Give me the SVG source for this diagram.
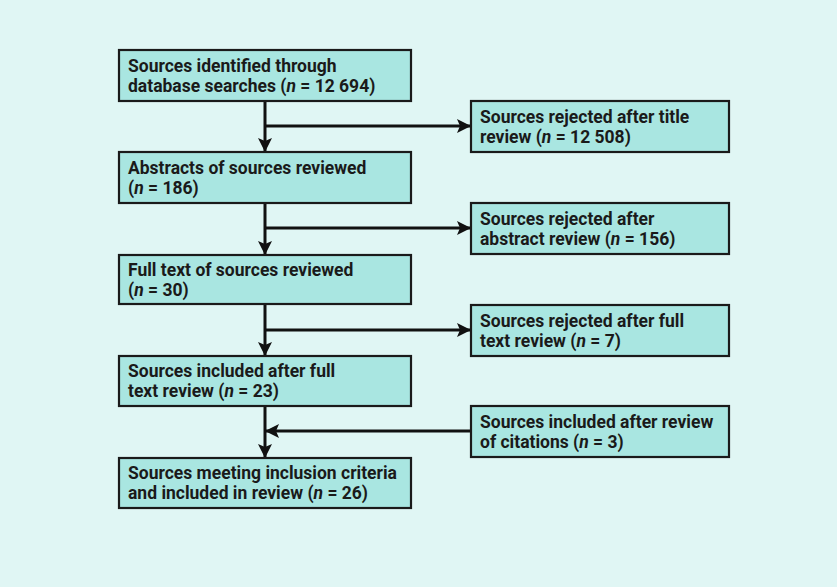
<svg xmlns="http://www.w3.org/2000/svg" width="837" height="587" viewBox="0 0 837 587">
<defs>
<marker id="ah" viewBox="0 0 14 14" refX="13" refY="7" markerWidth="14" markerHeight="14" markerUnits="userSpaceOnUse" orient="auto">
<path d="M0,0 L14,7 L0,14 L3,7 Z" fill="#111"/>
</marker>
<style>
.box{fill:#a9e6e1;stroke:#1a1a1a;stroke-width:2.2}
.t{font-family:Roboto,"Liberation Sans",sans-serif;font-weight:bold;font-size:17.5px;fill:#1a1a1a}
.c{stroke:#111;stroke-width:3;fill:none}
</style>
</defs>
<rect width="837" height="587" fill="#e0f6f4"/>
<g id="connectors">
<line class="c" x1="265" y1="101" x2="265" y2="151" marker-end="url(#ah)"/>
<line class="c" x1="265" y1="126" x2="470" y2="126" marker-end="url(#ah)"/>
<line class="c" x1="265" y1="203" x2="265" y2="254" marker-end="url(#ah)"/>
<line class="c" x1="265" y1="228" x2="470" y2="228" marker-end="url(#ah)"/>
<line class="c" x1="265" y1="304" x2="265" y2="355" marker-end="url(#ah)"/>
<line class="c" x1="265" y1="330" x2="470" y2="330" marker-end="url(#ah)"/>
<line class="c" x1="265" y1="406" x2="265" y2="457" marker-end="url(#ah)"/>
<line class="c" x1="471" y1="431" x2="266" y2="431" marker-end="url(#ah)"/>
</g>
<g id="n1"><rect class="box" x="119" y="50" width="292" height="51"/><text class="t" x="128" y="72">Sources identified through</text><text class="t" x="128" y="92">database searches (<tspan font-style="italic">n</tspan> = 12 694)</text></g>
<g id="n2"><rect class="box" x="119" y="152" width="292" height="51"/><text class="t" x="128" y="174">Abstracts of sources reviewed</text><text class="t" x="128" y="194">(<tspan font-style="italic">n</tspan> = 186)</text></g>
<g id="n3"><rect class="box" x="119" y="255" width="292" height="49"/><text class="t" x="128" y="276">Full text of sources reviewed</text><text class="t" x="128" y="296">(<tspan font-style="italic">n</tspan> = 30)</text></g>
<g id="n4"><rect class="box" x="119" y="356" width="292" height="50"/><text class="t" x="128" y="377">Sources included after full</text><text class="t" x="128" y="397">text review (<tspan font-style="italic">n</tspan> = 23)</text></g>
<g id="n5"><rect class="box" x="119" y="458" width="292" height="50"/><text class="t" x="128" y="479">Sources meeting inclusion criteria</text><text class="t" x="128" y="499">and included in review (<tspan font-style="italic">n</tspan> = 26)</text></g>
<g id="r1"><rect class="box" x="471" y="101" width="258" height="51"/><text class="t" x="480" y="123">Sources rejected after title</text><text class="t" x="480" y="143">review (<tspan font-style="italic">n</tspan> = 12 508)</text></g>
<g id="r2"><rect class="box" x="471" y="203" width="258" height="51"/><text class="t" x="480" y="225">Sources rejected after</text><text class="t" x="480" y="245">abstract review (<tspan font-style="italic">n</tspan> = 156)</text></g>
<g id="r3"><rect class="box" x="471" y="305" width="258" height="51"/><text class="t" x="480" y="327">Sources rejected after full</text><text class="t" x="480" y="347">text review (<tspan font-style="italic">n</tspan> = 7)</text></g>
<g id="r4"><rect class="box" x="471" y="406" width="258" height="51"/><text class="t" x="480" y="428">Sources included after review</text><text class="t" x="480" y="448">of citations (<tspan font-style="italic">n</tspan> = 3)</text></g>
</svg>
